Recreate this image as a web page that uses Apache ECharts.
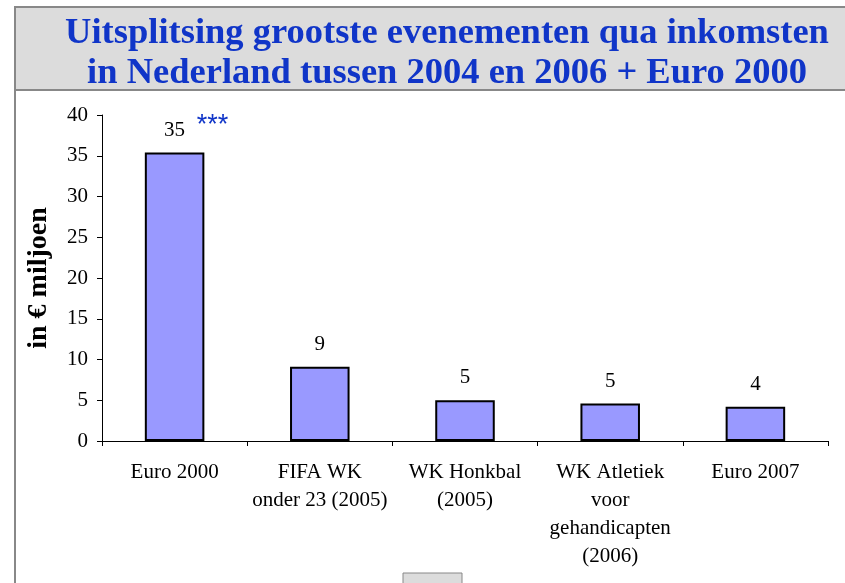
<!DOCTYPE html>
<html>
<head>
<meta charset="utf-8">
<script src="https://cdn.jsdelivr.net/npm/echarts@6/dist/echarts.min.js"></script>
<style>
  html, body { margin: 0; padding: 0; background: #fff; }
  #chart { width: 845px; height: 583px; }
</style>
</head>
<body>
<div id="chart"></div>
<script>
// categorieen en waarden (in € miljoen)
var categories = ['Euro 2000', 'FIFA WK\nonder 23 (2005)', 'WK Honkbal\n(2005)', 'WK Atletiek\nvoor\ngehandicapten\n(2006)', 'Euro 2007'];
var inkomsten = [35.4, 9.1, 5.0, 4.6, 4.2];
var yTicks = { min: 0, max: 40, interval: 5 };

var serif = '"Liberation Serif", "Times New Roman", serif';
var chart = echarts.init(document.getElementById('chart'));

var option = {
  animation: false,
  backgroundColor: '#fff',
  title: {
    text: 'Uitsplitsing grootste evenementen qua inkomsten\nin Nederland tussen 2004 en 2006 + Euro 2000',
    left: 442,
    top: 9,
    textAlign: 'center',
    textStyle: {
      fontFamily: serif,
      fontWeight: 'bold',
      fontSize: 36.5,
      lineHeight: 40,
      color: '#1035c8'
    }
  },
  graphic: [
    {
      type: 'rect', z: -1,
      shape: { x: 15, y: 7, width: 845, height: 83 },
      style: { fill: '#dcdcdc', stroke: '#888', lineWidth: 2 }
    },
    {
      type: 'line',
      shape: { x1: 15, y1: 90, x2: 15, y2: 590 },
      style: { stroke: '#888', lineWidth: 2 }
    },
    {
      type: 'rect',
      shape: { x: 403, y: 573, width: 59, height: 20 },
      style: { fill: '#dcdcdc', stroke: '#888', lineWidth: 1 }
    }
  ],
  grid: { left: 102, right: 17, top: 115, bottom: 142 },
  xAxis: {
    type: 'category',
    data: categories,
    axisLine: { lineStyle: { color: '#000', width: 1 } },
    axisTick: { show: true, length: 5, lineStyle: { color: '#000' } },
    axisLabel: {
      interval: 0,
      margin: 17,
      fontFamily: serif,
      fontSize: 21,
      lineHeight: 28,
      color: '#000'
    }
  },
  yAxis: {
    type: 'value',
    min: yTicks.min,
    max: yTicks.max,
    interval: yTicks.interval,
    name: 'in € miljoen',
    nameLocation: 'middle',
    nameGap: 49,
    nameRotate: 90,
    nameTextStyle: {
      fontFamily: serif,
      fontWeight: 'bold',
      fontSize: 28,
      color: '#000'
    },
    splitLine: { show: false },
    axisLine: { show: true, lineStyle: { color: '#000', width: 1 } },
    axisTick: { show: true, length: 5, lineStyle: { color: '#000' } },
    axisLabel: {
      margin: 14,
      fontFamily: serif,
      fontSize: 21,
      color: '#000'
    }
  },
  series: [
    {
      type: 'bar',
      data: inkomsten,
      barWidth: '41%',
      itemStyle: { color: '#9999ff', borderColor: '#000', borderWidth: 2 },
      label: {
        show: true,
        position: 'top',
        distance: 12,
        fontFamily: serif,
        fontSize: 21,
        color: '#000'
        ,formatter: function (p) { return Math.round(p.value); }
      },
      markPoint: {
        symbol: 'rect',
        symbolSize: 0,
        data: [{ coord: [0, inkomsten[0]] }],
        label: {
          show: true,
          formatter: '***',
          offset: [38, -27],
          fontFamily: '"Liberation Sans", Arial, sans-serif',
          fontSize: 27,
          color: '#1035c8'
        }
      }
    }
  ]
};

chart.setOption(option);
</script>
</body>
</html>
